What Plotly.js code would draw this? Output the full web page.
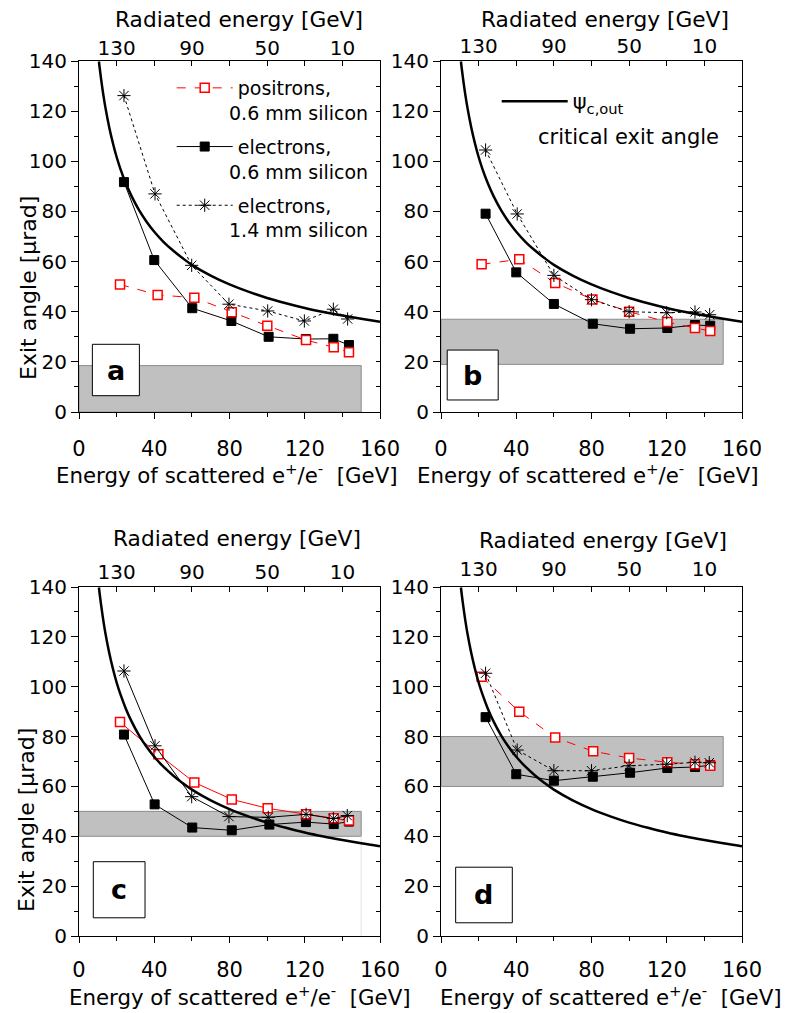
<!DOCTYPE html>
<html><head><meta charset="utf-8">
<script src="https://cdn.plot.ly/plotly-3.0.1.min.js"></script>
<style>html,body{margin:0;padding:0;background:#fff}</style>
</head><body>
<div id="chart" style="width:785px;height:1013px"></div>
<script>
// ---------- data ----------
// critical exit angle curve psi_c,out  [GeV, µrad]
const curveE   = [10.6, 11, 12, 13, 14, 16, 18, 20, 22, 25, 28, 32, 36, 40, 45, 50, 55, 60, 70, 80, 90, 100, 110, 120, 130, 140, 150, 160];
const curvePsi = [139.8, 137.2, 131.4, 126.2, 121.6, 113.8, 107.3, 101.7, 97.0, 91.0, 86.0, 80.4, 75.8, 71.9, 67.8, 64.4, 61.4, 58.7, 54.4, 50.9, 48.0, 45.5, 43.4, 41.5, 39.9, 38.5, 37.2, 36.0];

// panel a
const posA_E    = [21.8, 41.8, 61.3, 81.2, 100.1, 120.7, 135.4, 143.5];
const posA_psi  = [50.9, 46.7, 45.6, 39.8, 34.4, 28.7, 25.8, 23.8];
const el06A_E   = [23.9, 40.0, 60.2, 81.0, 100.8, 120.6, 135.2, 143.5];
const el06A_psi = [91.7, 60.6, 41.4, 36.3, 30.0, 29.1, 29.2, 26.7];
const el14A_E   = [23.9, 40.4, 59.9, 79.7, 100.3, 119.8, 135.2, 142.8];
const el14A_psi = [126.2, 87.0, 58.5, 43.0, 40.3, 36.3, 41.0, 37.1];
// panel b
const posB_E    = [21.6, 41.6, 60.7, 80.5, 100.0, 120.3, 135.0, 143.1];
const posB_psi  = [58.9, 60.9, 51.5, 44.9, 40.0, 35.9, 33.5, 32.3];
const el06B_E   = [23.7, 40.0, 60.0, 80.7, 100.5, 120.3, 135.0, 143.1];
const el06B_psi = [79.1, 55.7, 43.1, 35.2, 33.2, 33.5, 34.7, 34.4];
const el14B_E   = [23.7, 40.5, 60.0, 80.0, 100.0, 120.0, 135.0, 142.8];
const el14B_psi = [104.5, 79.0, 54.5, 44.8, 40.0, 39.6, 39.9, 38.8];
// panel c
const posC_E    = [21.8, 42.2, 61.3, 81.2, 100.3, 120.7, 135.4, 143.5];
const posC_psi  = [85.8, 72.9, 61.6, 54.8, 51.2, 48.8, 47.2, 46.3];
const el06C_E   = [23.9, 40.2, 60.2, 81.2, 101.2, 120.6, 135.4, 143.5];
const el06C_psi = [80.8, 52.8, 43.5, 42.4, 44.7, 45.7, 44.9, 45.9];
const el14C_E   = [23.9, 40.4, 59.9, 79.7, 100.6, 120.7, 135.2, 142.6];
const el14C_psi = [106.3, 76.3, 55.9, 47.9, 47.6, 48.8, 47.1, 48.3];
// panel d
const posD_E    = [21.6, 41.6, 60.7, 80.9, 100.0, 120.3, 135.0, 143.1];
const posD_psi  = [104.0, 90.0, 79.6, 74.1, 71.4, 69.7, 68.9, 68.3];
const el06D_E   = [23.7, 40.0, 60.0, 80.7, 100.5, 120.3, 135.0, 143.1];
const el06D_psi = [87.8, 64.9, 62.3, 63.9, 65.5, 67.4, 67.8, 68.5];
const el14D_E   = [23.7, 40.5, 60.0, 80.0, 100.0, 120.0, 135.0, 142.6];
const el14D_psi = [105.4, 74.6, 66.3, 66.3, 68.3, 68.9, 69.7, 69.5];

// grey acceptance bands (µrad) and their energy extent (GeV)
const bandLow  = [0, 19, 40, 60];
const bandHigh = [18.5, 37, 50, 80];
const bandEnd  = 150;

// tick labels
const energyTicks   = [0, 40, 80, 120, 160];
const energyMinor   = [20, 60, 100, 140];
const radiatedPos   = [20, 60, 100, 140];
const radiatedText  = ['130', '90', '50', '10'];
const radiatedAll   = [20, 40, 60, 80, 100, 120, 140];
const angleTicks    = [0, 20, 40, 60, 80, 100, 120, 140];
const angleMinor    = [10, 30, 50, 70, 90, 110, 130];
const panelLetters  = ['a', 'b', 'c', 'd'];
const seriesNames   = ['positrons,', 'electrons,', 'electrons,'];
const seriesSub     = ['0.6 mm silicon', '0.6 mm silicon', '1.4 mm silicon'];
const xTitle   = 'Energy of scattered e<sup>+</sup>/e<sup>-</sup>\u00a0\u00a0[GeV]';
const yTitle   = 'Exit angle [\u00b5rad]';
const topTitle = 'Radiated energy [GeV]';

// ---------- layout helpers ----------
const W = 785, H = 1013;
const FONT = 'DejaVu Sans, sans-serif';
const px = v => v / W;
const py = v => 1 - v / H;
const sfx = n => (n === 1 ? '' : String(n));

const xDomPx = [[79, 380], [441, 742], [79, 380], [441, 742]];
const yDomPx = [[412, 61], [412, 61], [936, 587], [936, 587]];
const posData  = [[posA_E, posA_psi], [posB_E, posB_psi], [posC_E, posC_psi], [posD_E, posD_psi]];
const el06Data = [[el06A_E, el06A_psi], [el06B_E, el06B_psi], [el06C_E, el06C_psi], [el06D_E, el06D_psi]];
const el14Data = [[el14A_E, el14A_psi], [el14B_E, el14B_psi], [el14C_E, el14C_psi], [el14D_E, el14D_psi]];
const posDash  = ['dash', 'dash', 'solid', 'dash'];
const starDash = ['dot', 'dot', 'solid', 'dot'];
const boxes = [[7.1, 32.1, 6.5, 27.0], [3.3, 30.4, 4.8, 24.7], [7.6, 35.1, 7.3, 29.8], [7.8, 37.9, 5.3, 27.6]];
const xTitlePos   = [[226.5, 474], [587.5, 474], [239.7, 996], [611, 996]];
const topTitlePos = [[238.7, 20], [605, 20], [237, 538], [602.7, 540]];
const topLabelLine = [58.7, 57, 582.7, 580.3];   // px row of the radiated-energy label axis
const tickStandoff = [12, 12, 9, 9];

const traces = [];
const layout = {
  width: W, height: H,
  margin: {l: 0, r: 0, t: 0, b: 0},
  paper_bgcolor: '#fff', plot_bgcolor: 'rgba(0,0,0,0)',
  font: {family: FONT, color: '#000', size: 20},
  showlegend: true,
  shapes: [], annotations: [],
  legend: {
    x: px(171.7), y: py(69), xanchor: 'left', yanchor: 'top',
    bgcolor: 'rgba(0,0,0,0)', borderwidth: 0,
    font: {family: FONT, size: 19, color: '#000'},
    itemwidth: 56, traceorder: 'grouped', tracegroupgap: 31
  },
  legend2: {
    x: px(496.7), y: py(81), xanchor: 'left', yanchor: 'top',
    bgcolor: 'rgba(0,0,0,0)', borderwidth: 0,
    font: {family: FONT, size: 21, color: '#000'},
    itemwidth: 66
  }
};

for (let i = 0; i < 4; i++) {
  const n = i + 1;
  const xa = 'x' + sfx(n), ya = 'y' + sfx(n);
  const xFrame = 'x' + (n + 4), yFrame = 'y' + (n + 4), xRad = 'x' + (n + 8);
  const lineAx = {showline: true, linecolor: '#000', linewidth: 1, showgrid: false, zeroline: false, fixedrange: true};

  layout['xaxis' + sfx(n)] = Object.assign({}, lineAx, {
    domain: [px(xDomPx[i][0]), px(xDomPx[i][1])], anchor: ya, range: [0, 160],
    tickmode: 'array', tickvals: energyTicks, ticktext: energyTicks.map(String),
    ticks: 'outside', ticklen: 6, tickwidth: 1, tickcolor: '#000',
    minor: {tickmode: 'array', tickvals: energyMinor, ticks: 'outside', ticklen: 4, tickwidth: 1, tickcolor: '#000', showgrid: false},
    tickfont: {size: 21}, ticklabelstandoff: tickStandoff[i]
  });
  layout['yaxis' + sfx(n)] = Object.assign({}, lineAx, {
    domain: [py(yDomPx[i][0]), py(yDomPx[i][1])], anchor: xa, range: [0, 140],
    tickmode: 'array', tickvals: angleTicks, ticktext: angleTicks.map(String),
    ticks: 'outside', ticklen: 7, tickwidth: 1, tickcolor: '#000',
    minor: {tickmode: 'array', tickvals: angleMinor, ticks: 'outside', ticklen: 4, tickwidth: 1, tickcolor: '#000', showgrid: false},
    tickfont: {size: 20}
  });
  // top frame axis (same energy scale) with inside ticks
  layout['xaxis' + (n + 4)] = Object.assign({}, lineAx, {
    overlaying: xa, side: 'top', anchor: ya, range: [0, 160],
    tickmode: 'array', tickvals: radiatedAll, ticks: 'inside', ticklen: 5, tickwidth: 1, tickcolor: '#000',
    showticklabels: false
  });
  // radiated energy labels (labels = 150 GeV - scattered energy)
  layout['xaxis' + (n + 8)] = {
    overlaying: xa, side: 'top', anchor: 'free', position: py(topLabelLine[i]),
    range: [0, 160], showline: false, showgrid: false, zeroline: false, fixedrange: true,
    tickmode: 'array', tickvals: radiatedPos, ticktext: radiatedText, ticks: '',
    tickfont: {size: 20}
  };
  // right frame axis
  layout['yaxis' + (n + 4)] = Object.assign({}, lineAx, {
    overlaying: ya, side: 'right', anchor: xa, range: [0, 140],
    tickmode: 'array', tickvals: angleTicks, ticks: 'inside', ticklen: 4, tickwidth: 1, tickcolor: '#000',
    minor: {tickmode: 'array', tickvals: angleMinor, ticks: 'inside', ticklen: 4, tickwidth: 1, tickcolor: '#000', showgrid: false},
    showticklabels: false
  });

  // band
  layout.shapes.push({type: 'rect', xref: xa, yref: ya, x0: 0, x1: bandEnd, y0: bandLow[i], y1: bandHigh[i],
    fillcolor: '#c0c0c0', line: {color: '#8c8c8c', width: 1}, layer: 'below'});
  if (i === 2) {
    layout.shapes.push({type: 'line', xref: xa, yref: ya, x0: bandEnd, x1: bandEnd, y0: 0, y1: bandLow[i],
      line: {color: '#e2e2e2', width: 1}, layer: 'below'});
  }
  // letter box
  const b = boxes[i];
  layout.shapes.push({type: 'rect', xref: xa, yref: ya, x0: b[0], x1: b[1], y0: b[2], y1: b[3],
    fillcolor: '#fff', line: {color: '#000', width: 1}, layer: 'below'});
  layout.annotations.push({xref: xa, yref: ya, x: (b[0] + b[1]) / 2, y: (b[2] + b[3]) / 2,
    text: '<b>' + panelLetters[i] + '</b>', showarrow: false, xanchor: 'center', yanchor: 'middle',
    font: {family: FONT, size: 27, color: '#000'}});
  // bottom axis title
  layout.annotations.push({xref: 'paper', yref: 'paper', x: px(xTitlePos[i][0]), y: py(xTitlePos[i][1]),
    xanchor: 'center', yanchor: 'middle', text: xTitle, showarrow: false,
    font: {family: FONT, size: 21.3, color: '#000'}});
  // top axis title
  layout.annotations.push({xref: 'paper', yref: 'paper', x: px(topTitlePos[i][0]), y: py(topTitlePos[i][1]),
    xanchor: 'center', yanchor: 'middle', text: topTitle, showarrow: false,
    font: {family: FONT, size: 21.7, color: '#000'}});

  // critical angle curve (on the radiated-energy / right axes; identical scales)
  traces.push({x: curveE, y: curvePsi, xaxis: xRad, yaxis: yFrame, type: 'scatter', mode: 'lines',
    line: {color: '#000', width: 2.5, shape: 'spline'}, name: '\u03c8<sub>c,out</sub>',
    showlegend: i === 1, legend: 'legend2', legendgroup: 'curve', hoverinfo: 'skip'});
  // electrons 0.6 mm
  traces.push({x: el06Data[i][0], y: el06Data[i][1], xaxis: xa, yaxis: ya, type: 'scatter', mode: 'lines+markers',
    line: {color: '#000', width: 1, dash: 'solid'},
    marker: {symbol: 'square', size: 9, color: '#000', line: {color: '#000', width: 1}},
    name: seriesNames[1], legendgroup: 'g2', legendrank: 2, showlegend: i === 0});
  // positrons 0.6 mm
  traces.push({x: posData[i][0], y: posData[i][1], xaxis: xa, yaxis: ya, type: 'scatter', mode: 'lines+markers',
    line: {color: '#ff0000', width: 1, dash: posDash[i]},
    marker: {symbol: 'square', size: 9, color: '#fff', line: {color: '#ff0000', width: 1.5}},
    name: seriesNames[0], legendgroup: 'g1', legendrank: 1, showlegend: i === 0});
  // electrons 1.4 mm (on the top frame axis; identical scale)
  traces.push({x: el14Data[i][0], y: el14Data[i][1], xaxis: xFrame, yaxis: ya, type: 'scatter', mode: 'lines+markers',
    line: {color: '#000', width: 1, dash: starDash[i]},
    marker: {symbol: 'asterisk-open', size: 11, color: '#000', line: {color: '#000', width: 1}},
    name: seriesNames[2], legendgroup: 'g3', legendrank: 3, showlegend: i === 0});
}

// second lines of the legend entries (panel a)
const subY = [113.3, 171.7, 230];
for (let k = 0; k < 3; k++) {
  layout.annotations.push({xref: 'paper', yref: 'paper', x: px(226.7), y: py(subY[k]), xanchor: 'left', yanchor: 'middle',
    text: seriesSub[k], showarrow: false, font: {family: FONT, size: 19, color: '#000'}});
}
// second line of the curve legend (panel b)
layout.annotations.push({xref: 'paper', yref: 'paper', x: px(536), y: py(136.7), xanchor: 'left', yanchor: 'middle',
  text: 'critical exit angle', showarrow: false, font: {family: FONT, size: 21, color: '#000'}});
// y-axis titles
layout.annotations.push({xref: 'paper', yref: 'paper', x: px(28), y: py(288), xanchor: 'center', yanchor: 'middle',
  text: yTitle, textangle: -90, showarrow: false, font: {family: FONT, size: 22, color: '#000'}});
layout.annotations.push({xref: 'paper', yref: 'paper', x: px(26), y: py(820), xanchor: 'center', yanchor: 'middle',
  text: yTitle, textangle: -90, showarrow: false, font: {family: FONT, size: 22, color: '#000'}});

Plotly.newPlot('chart', traces, layout, {staticPlot: true, displayModeBar: false});
</script></body></html>
